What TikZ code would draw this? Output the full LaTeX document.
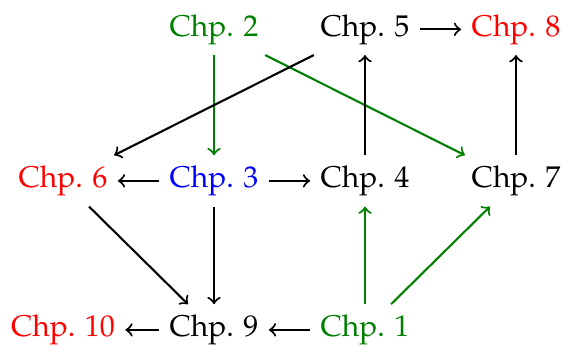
\documentclass[tikz,border=0pt]{standalone}
\usepackage[T1]{fontenc}
\usepackage{mathpazo}
\colorlet{chgreen}{green!50!black}
\tikzset{
  chp/.style={anchor=base, inner sep=3.333pt},
  arr/.style={->, line width=0.7pt},
  garr/.style={->, line width=0.7pt, draw=chgreen}
}
\begin{document}
\begin{tikzpicture}[x=0.3333pt,y=-0.3333pt]
\useasboundingbox (0,0) rectangle (562,345);
\node[chp,text=chgreen] (c2) at (214,36) {Chp. 2};
\node[chp] (c5) at (365,36) {Chp. 5};
\node[chp,text=red] (c8) at (516,36) {Chp. 8};
\node[chp,text=red] (c6) at (63,187.5) {Chp. 6};
\node[chp,text=blue] (c3) at (214,187.5) {Chp. 3};
\node[chp] (c4) at (365,187.5) {Chp. 4};
\node[chp] (c7) at (516,187.5) {Chp. 7};
\node[chp,text=red] (c10) at (63,336.5) {Chp. 10};
\node[chp] (c9) at (214,336.5) {Chp. 9};
\node[chp,text=chgreen] (c1) at (365,336.5) {Chp. 1};
\draw[arr] (c5) -- (c8);
\draw[garr] (c2) -- (c3);
\draw[garr] (c2) -- (c7);
\draw[arr] (c5) -- (c6);
\draw[arr] (c4) -- (c5);
\draw[arr] (c7) -- (c8);
\draw[arr] (c3) -- (c6);
\draw[arr] (c3) -- (c4);
\draw[arr] (c3) -- (c9);
\draw[arr] (c6) -- (c9);
\draw[garr] (c1) -- (c4);
\draw[garr] (c1) -- (c7);
\draw[arr] (c1) -- (c9);
\draw[arr] (c9) -- (c10);
\end{tikzpicture}
\end{document}
